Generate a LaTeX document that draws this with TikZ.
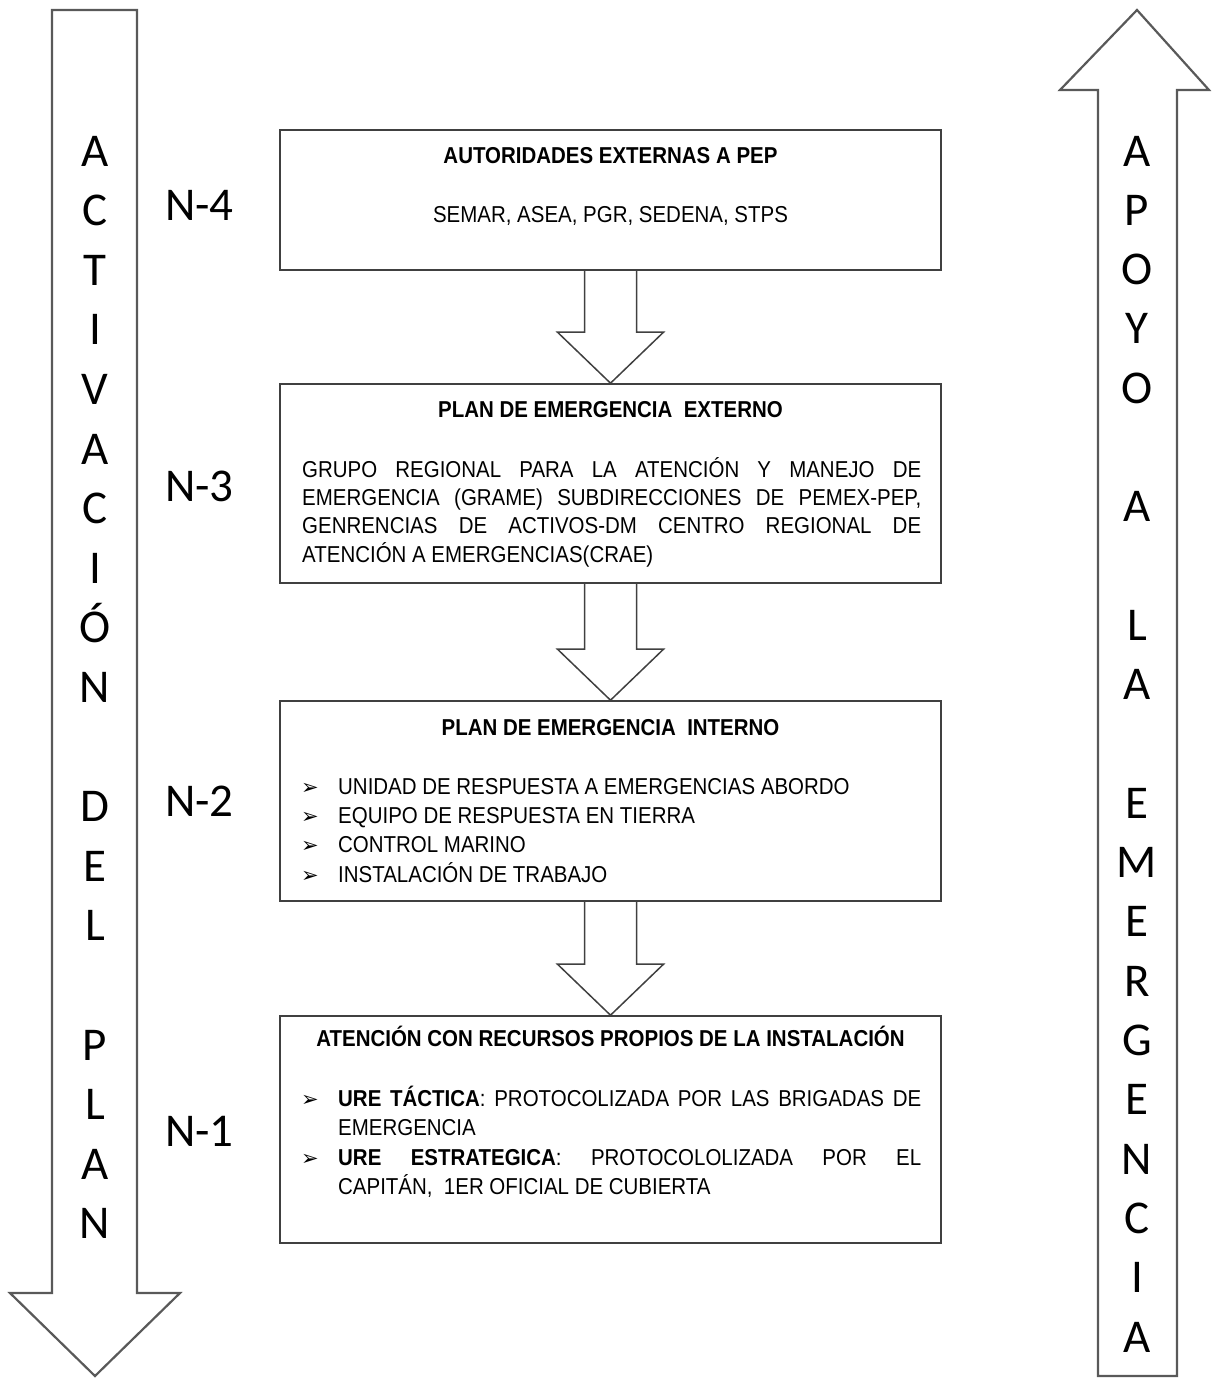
\documentclass[tikz,border=0pt]{standalone}
\usepackage{fontspec}
\setmainfont{Liberation Sans}
\newfontfamily\narrowfont[FakeStretch=0.89]{Liberation Sans}
\newfontfamily\bigfont{Carlito}
\newfontfamily\symfont{DejaVu Sans}
\usetikzlibrary{calc}
\begin{document}
\begin{tikzpicture}[x=1pt,y=-1pt,
  frame/.style={draw=black!75, line width=1.6pt, inner sep=0pt},
  bigarrow/.style={draw=black!65, line width=2.2pt, line join=miter},
  smallarrow/.style={draw=black!75, line width=1.5pt, line join=miter},
  vlet/.style={font=\bigfont\fontsize{47}{47}\selectfont, anchor=base, inner sep=0pt},
  nlab/.style={font=\bigfont\fontsize{47}{47}\selectfont, anchor=base west, inner sep=0pt},
  ttl/.style={font=\narrowfont\bfseries\fontsize{23}{28}\selectfont, anchor=base, inner sep=0pt},
  body/.style={font=\narrowfont\fontsize{23}{28}\selectfont, anchor=base west, inner sep=0pt},
  bul/.style={font=\symfont\fontsize{21}{21}\selectfont, anchor=base west, inner sep=0pt},
]
\useasboundingbox (0,0) rectangle (1211,1378);

% big side arrows
\draw[bigarrow] (52,10) -- (137,10) -- (137,1293) -- (180,1293) -- (95,1376) -- (10,1293) -- (52,1293) -- cycle;
\draw[bigarrow] (1137,10) -- (1209,90) -- (1177,90) -- (1177,1376) -- (1098,1376) -- (1098,90) -- (1060,90) -- cycle;

% letters left
\foreach \k/\ch in {0/A,1/C,2/T,3/I,4/V,5/A,6/C,7/I,8/Ó,9/N,11/D,12/E,13/L,15/P,16/L,17/A,18/N}
  \node[vlet] (l\k) at (95,{166+59.6*\k}) {\ch};
% letters right
\foreach \k/\ch in {0/A,1/P,2/O,3/Y,4/O,6/A,8/L,9/A,11/E,12/M,13/E,14/R,15/G,16/E,17/N,18/C,19/I,20/A}
  \node[vlet] (r\k) at (1137,{166+59.3*\k}) {\ch};

% level labels
\node[nlab] (n4) at (165,220) {N-4};
\node[nlab] (n3) at (165,501) {N-3};
\node[nlab] (n2) at (165,816) {N-2};
\node[nlab] (n1) at (165,1146) {N-1};

% boxes
\node[frame, minimum width=661pt, minimum height=140pt] (b1) at (610.5,200) {};
\node[frame, minimum width=661pt, minimum height=199pt] (b2) at (610.5,483.5) {};
\node[frame, minimum width=661pt, minimum height=200pt] (b3) at (610.5,801) {};
\node[frame, minimum width=661pt, minimum height=227pt] (b4) at (610.5,1129.5) {};

% small arrows between boxes
\foreach \a/\b in {b1/b2,b2/b3,b3/b4}{
  \draw[smallarrow] ($(\a.south)+(-26,0)$) -- ($(\b.north)+(-26,-51)$) -- ($(\b.north)+(-53,-51)$)
    -- (\b.north) -- ($(\b.north)+(53,-51)$) -- ($(\b.north)+(26,-51)$) -- ($(\a.south)+(26,0)$);
}

% box 1
\node[ttl] (t1) at (610.5,164) {AUTORIDADES EXTERNAS A PEP};
\node[body, anchor=base] (s1) at (610.5,222) {SEMAR, ASEA, PGR, SEDENA, STPS};

% box 2
\node[ttl] (t2) at (610.5,417) {PLAN DE EMERGENCIA \ EXTERNO};
\node[body] (p2a) at (302,477) {\makebox[619pt][s]{GRUPO REGIONAL PARA LA ATENCIÓN Y MANEJO DE}};
\node[body] (p2b) at (302,505) {\makebox[619pt][s]{EMERGENCIA (GRAME) SUBDIRECCIONES DE PEMEX-PEP,}};
\node[body] (p2c) at (302,533) {\makebox[619pt][s]{GENRENCIAS DE ACTIVOS-DM CENTRO REGIONAL DE}};
\node[body] (p2d) at (302,562) {ATENCIÓN A EMERGENCIAS(CRAE)};

% box 3
\node[ttl] (t3) at (610.5,735) {PLAN DE EMERGENCIA \ INTERNO};
\foreach \y/\txt [count=\i] in {794/UNIDAD DE RESPUESTA A EMERGENCIAS ABORDO,823/EQUIPO DE RESPUESTA EN TIERRA,852/CONTROL MARINO,882/INSTALACIÓN DE TRABAJO}{
  \node[bul] (c\i) at (301,\y) {➢};
  \node[body] (q\i) at (338,\y) {\txt};
}

% box 4
\node[ttl] (t4) at (610.5,1046) {ATENCIÓN CON RECURSOS PROPIOS DE LA INSTALACIÓN};
\node[bul] (d1) at (301,1106) {➢};
\node[body] (u1) at (338,1106) {\makebox[583pt][s]{\textbf{URE TÁCTICA}: PROTOCOLIZADA POR LAS BRIGADAS DE}};
\node[body] (u2) at (338,1135) {EMERGENCIA};
\node[bul] (d2) at (301,1165) {➢};
\node[body] (u3) at (338,1165) {\makebox[583pt][s]{\textbf{URE ESTRATEGICA}: PROTOCOLOLIZADA POR EL}};
\node[body] (u4) at (338,1194) {CAPITÁN, \ 1ER OFICIAL DE CUBIERTA};
\end{tikzpicture}
\end{document}
